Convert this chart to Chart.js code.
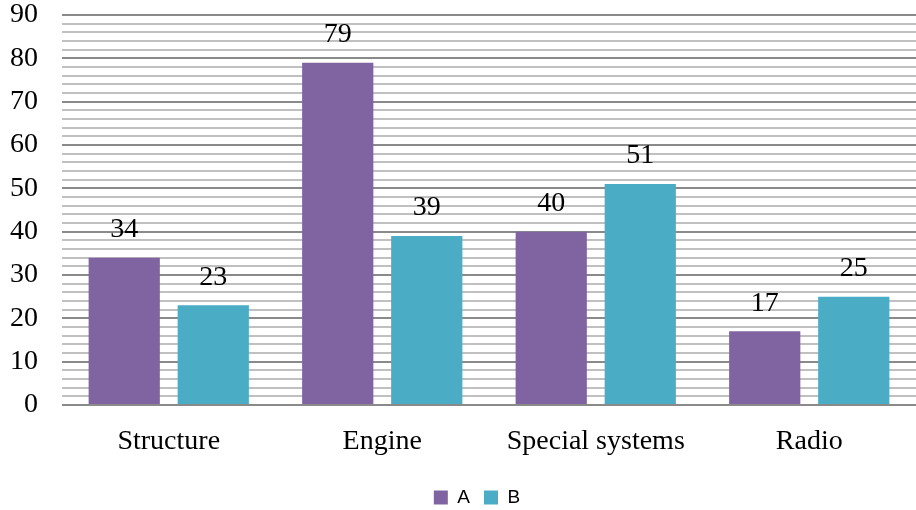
<!DOCTYPE html>
<html>
<head>
<meta charset="utf-8">
<script src="https://cdn.jsdelivr.net/npm/chart.js@4/dist/chart.umd.min.js"></script>
<style>
  html, body { margin: 0; padding: 0; background: #fff; }
  #wrap { width: 916px; height: 510px; }
</style>
</head>
<body>
<div id="wrap"><canvas id="c" width="916" height="510"></canvas></div>
<script>
const categories = ['Structure', 'Engine', 'Special systems', 'Radio'];
const seriesA = [34, 79, 40, 17];
const seriesB = [23, 39, 51, 25];
const seriesNames = ['A', 'B'];
const yMax = 90;
const yStep = 2;
const labelEvery = 10;

const SERIF = '"Liberation Serif", "Times New Roman", serif';
const SANS = '"Liberation Sans", Arial, sans-serif';

// Writes each bar's value just above it
const valueLabels = {
  id: 'valueLabels',
  beforeDraw(chart) {
    // centre the legend under the plot rather than the whole canvas
    if (chart.legend) chart.legend.left = 38;
  },
  afterDatasetsDraw(chart) {
    const ctx = chart.ctx;
    ctx.save();
    ctx.font = '28px ' + SERIF;
    ctx.fillStyle = '#000';
    ctx.textAlign = 'center';
    ctx.textBaseline = 'middle';
    chart.data.datasets.forEach((ds, i) => {
      chart.getDatasetMeta(i).data.forEach((bar, j) => {
        ctx.fillText(String(ds.data[j]), bar.x, bar.y - 28);
      });
    });
    ctx.restore();
  }
};

new Chart(document.getElementById('c'), {
  type: 'bar',
  data: {
    labels: categories,
    datasets: [
      { label: seriesNames[0], data: seriesA, backgroundColor: '#8064A2' },
      { label: seriesNames[1], data: seriesB, backgroundColor: '#4BACC6' }
    ]
  },
  options: {
    responsive: false,
    animation: false,
    devicePixelRatio: 1,
    categoryPercentage: 0.834,
    barPercentage: 0.8,
    layout: { padding: { top: 0, right: 0, left: 6, bottom: -7 } },
    plugins: {
      tooltip: { enabled: false },
      legend: {
        position: 'bottom',
        labels: {
          boxWidth: 14,
          boxHeight: 14,
          padding: 14,
          color: '#000',
          font: { family: SANS, size: 19 }
        }
      }
    },
    scales: {
      x: {
        grid: { display: false, drawTicks: false },
        border: { display: false },
        afterFit: (s) => { s.height = 69; },
        ticks: {
          color: '#000',
          padding: 20,
          font: { family: SERIF, size: 28 }
        }
      },
      y: {
        min: 0,
        max: yMax,
        border: { display: false },
        afterFit: (s) => { s.width = 56; s.paddingTop = 15; s.paddingBottom = 0; },
        grid: {
          drawTicks: false,
          color: (c) => (c.tick && c.tick.value % labelEvery === 0) ? '#8a8a8a' : '#c0c0c0',
          lineWidth: 2
        },
        ticks: {
          stepSize: yStep,
          autoSkip: false,
          color: '#000',
          padding: 24,
          font: { family: SERIF, size: 28 },
          callback: (v) => (v % labelEvery === 0) ? String(v) : ''
        }
      }
    }
  },
  plugins: [valueLabels]
});
</script>
</body>
</html>
